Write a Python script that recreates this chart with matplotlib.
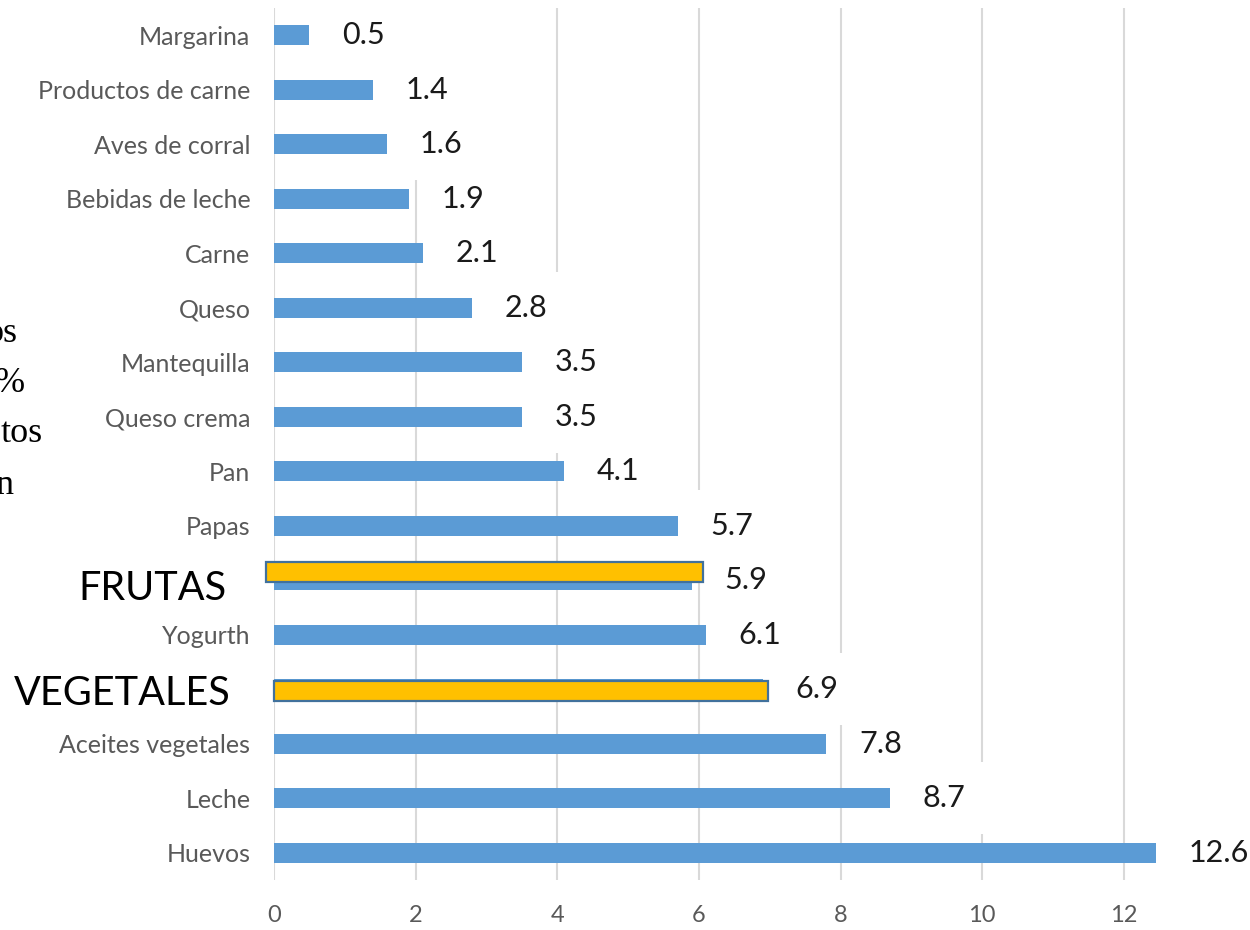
import matplotlib
matplotlib.use("Agg")
import matplotlib.pyplot as plt
from matplotlib.patches import Rectangle

# datos (de abajo hacia arriba)
categorias = ["Huevos", "Leche", "Aceites vegetales", "Vegetales", "Yogurth",
              "Frutas", "Papas", "Pan", "Queso crema", "Mantequilla", "Queso",
              "Carne", "Bebidas de leche", "Aves de corral",
              "Productos de carne", "Margarina"]
valores = [12.45, 8.7, 7.8, 6.9, 6.1, 5.9, 5.7, 4.1, 3.5, 3.5, 2.8, 2.1,
           1.9, 1.6, 1.4, 0.5]
etiquetas = ["12.6", "8.7", "7.8", "6.9", "6.1", "5.9", "5.7", "4.1", "3.5",
             "3.5", "2.8", "2.1", "1.9", "1.6", "1.4", "0.5"]
xticks = [0, 2, 4, 6, 8, 10, 12]

# resaltados amarillos sobrepuestos
resaltados = ["Frutas", "Vegetales"]
resaltados_txt = ["FRUTAS", "VEGETALES"]
resaltado_inicio = [-0.11, 0.0]
resaltado_extra = [0.16, 0.08]
resaltado_dy = [0.15, -0.03]

# restos del texto de la diapositiva
restos = ["os", "%", "tos", "n"]

AZUL = "#5b9bd5"
AMARILLO = "#ffc000"
BORDE = "#41719c"
GRIS = "#595959"
FUENTE = ["Lato", "DejaVu Sans"]

plt.rcParams['font.family'] = FUENTE

fig = plt.figure(figsize=(12.5, 9.3), dpi=100)
fig.patch.set_facecolor("white")
ax = fig.add_axes([274 / 1250, 1 - 880 / 930, (1230 - 274) / 1250, (880 - 8) / 930])

y = list(range(len(categorias)))
ax.barh(y, valores, height=0.37, color=AZUL, zorder=2)

for i, (v, t) in enumerate(zip(valores, etiquetas)):
    # caja blanca de la etiqueta (tapa la cuadricula como en Excel)
    ax.add_patch(Rectangle((v + 0.25, i - 0.66), 1.5, 1.32, facecolor="white",
                           edgecolor="none", zorder=1))
    ax.annotate(t, xy=(v, i), xytext=(23.5, 0), textcoords="offset points",
                ha="left", va="center", fontsize=22, color="#1a1a1a", zorder=3)

for nombre, txt, x0, extra, dy in zip(resaltados, resaltados_txt,
                                     resaltado_inicio, resaltado_extra, resaltado_dy):
    i = categorias.index(nombre)
    ax.barh(i + dy, valores[i] + extra - x0, left=x0, height=0.37, color=AMARILLO,
            edgecolor=BORDE, linewidth=1.6, zorder=4, clip_on=False)

ax.set_xlim(0, 13.5)
ax.set_ylim(-0.5, len(categorias) - 0.5)
ax.set_xticks(xticks)
ax.set_yticks(y)
ax.set_yticklabels([c if c not in resaltados else "" for c in categorias])
ax.tick_params(axis="y", length=0, pad=17, labelsize=18, labelcolor=GRIS)
ax.tick_params(axis="x", length=0, pad=18, labelsize=17, labelcolor=GRIS)
for s in ax.spines.values():
    s.set_visible(False)
ax.set_axisbelow(True)
ax.grid(axis="x", color="#d9d9d9", linewidth=1.5, zorder=0)
ax.grid(axis="y", visible=False)

# etiquetas grandes de los resaltados
for nombre, txt, dx, dy in zip(resaltados, resaltados_txt, [-34.5, -31], [-6, -3]):
    i = categorias.index(nombre)
    ax.annotate(txt, xy=(0, i), xycoords=("axes fraction", "data"),
                xytext=(dx, dy), textcoords="offset points", ha="right",
                va="center", fontsize=28.5, color="black", annotation_clip=False)

# texto cortado a la izquierda
bordes = [18, 25, 43, 13]
bases = [342, 392, 442, 494]
for t, xr, yb in zip(restos, bordes, bases):
    fig.text(xr / 1250, 1 - yb / 930, t, ha="right", va="baseline",
             fontsize=26, family="Liberation Serif", color="black")

fig.savefig("out.png", dpi=100)
